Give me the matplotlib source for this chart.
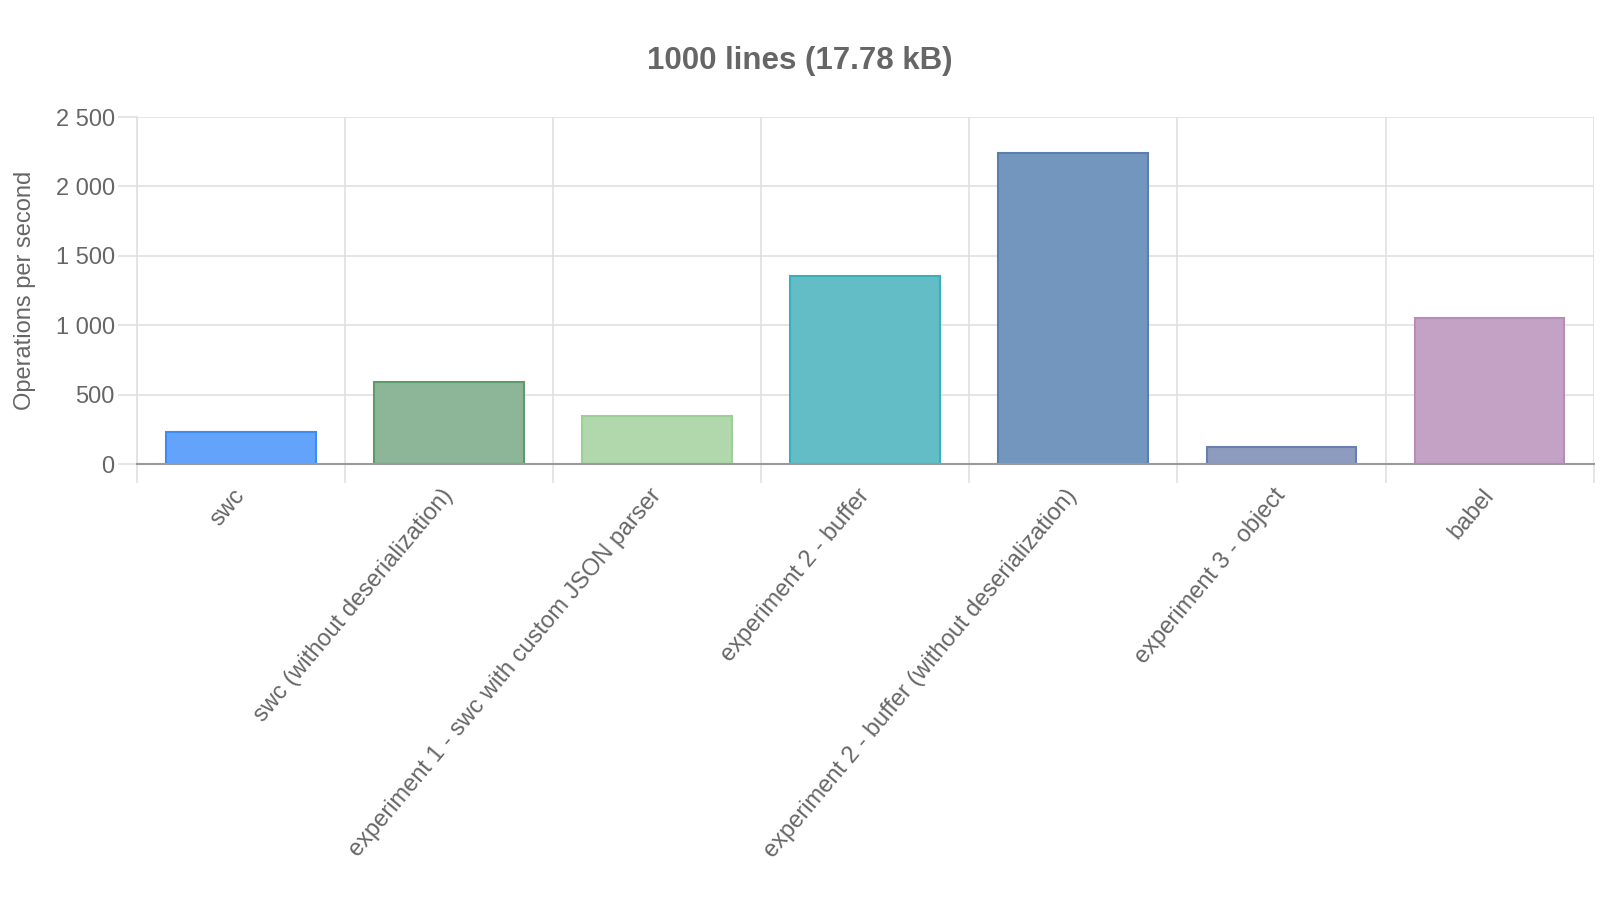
import matplotlib.pyplot as plt
from matplotlib.ticker import FuncFormatter, FixedLocator
from matplotlib.transforms import ScaledTranslation

plt.rcParams['font.family'] = ['Liberation Sans', 'DejaVu Sans']

labels = [
    'swc',
    'swc (without deserialization)',
    'experiment 1 - swc with custom JSON parser',
    'experiment 2 - buffer',
    'experiment 2 - buffer (without deserialization)',
    'experiment 3 - object',
    'babel',
]
ops = [228, 594, 348, 1355, 2240, 121, 1050]
fills = ['#64a3fc', '#8db597', '#b0d8ac', '#62bdc6', '#7396be', '#8d9bbe', '#c4a2c6']
edges = ['#3b8cf5', '#5f9a6c', '#9fcf98', '#3aafb9', '#5a7fae', '#6c7eb0', '#b78bba']

fig = plt.figure(figsize=(16, 9), dpi=100)
ax = fig.add_axes([0.0856, 0.4844, 0.9104, 0.3856])

x = range(len(labels))
ax.bar(x, ops, width=0.72, color=fills, edgecolor=edges, linewidth=1.5, zorder=3)

ax.set_xlim(-0.5, len(labels) - 0.5)
ax.set_ylim(0, 2500)
ax.set_yticks([0, 500, 1000, 1500, 2000, 2500])
ax.yaxis.set_major_formatter(FuncFormatter(lambda v, p: f'{int(v):,}'.replace(',', ' ')))

ax.set_xticks(list(x))
ax.set_xticklabels(labels, rotation=50, ha='right', rotation_mode='anchor', va='center')
shift = ScaledTranslation(5 / 100, 0, fig.dpi_scale_trans)
for t in ax.get_xticklabels():
    t.set_transform(t.get_transform() + shift)
ax.xaxis.set_minor_locator(FixedLocator([i - 0.5 for i in range(len(labels) + 1)]))
ax.tick_params(axis='x', which='major', length=0, pad=20, labelsize=17, labelcolor='#666666')
ax.tick_params(axis='x', which='minor', length=14, color='#e0e0e0', width=1.2)
ax.tick_params(axis='y', length=14, pad=2, color='#e0e0e0', width=1.2, labelsize=17, labelcolor='#666666')

ax.grid(True, axis='y', color='#e0e0e0', linewidth=1.2, zorder=0)
ax.grid(True, axis='x', which='minor', color='#e0e0e0', linewidth=1.2, zorder=0)
ax.grid(False, axis='x', which='major')

for side in ['top', 'right']:
    ax.spines[side].set_visible(False)
ax.spines['left'].set_color('#e0e0e0')
ax.spines['left'].set_linewidth(1.2)
ax.spines['bottom'].set_color('#9a9a9a')
ax.spines['bottom'].set_linewidth(1.5)
ax.spines['bottom'].set_zorder(4)

ax.set_ylabel('Operations per second', fontsize=17, color='#666666', labelpad=14)
fig.text(0.5, 0.9325, '1000 lines (17.78 kB)', ha='center', va='center',
         fontsize=22.5, fontweight='bold', color='#666666')

fig.savefig('out.png', dpi=100)
